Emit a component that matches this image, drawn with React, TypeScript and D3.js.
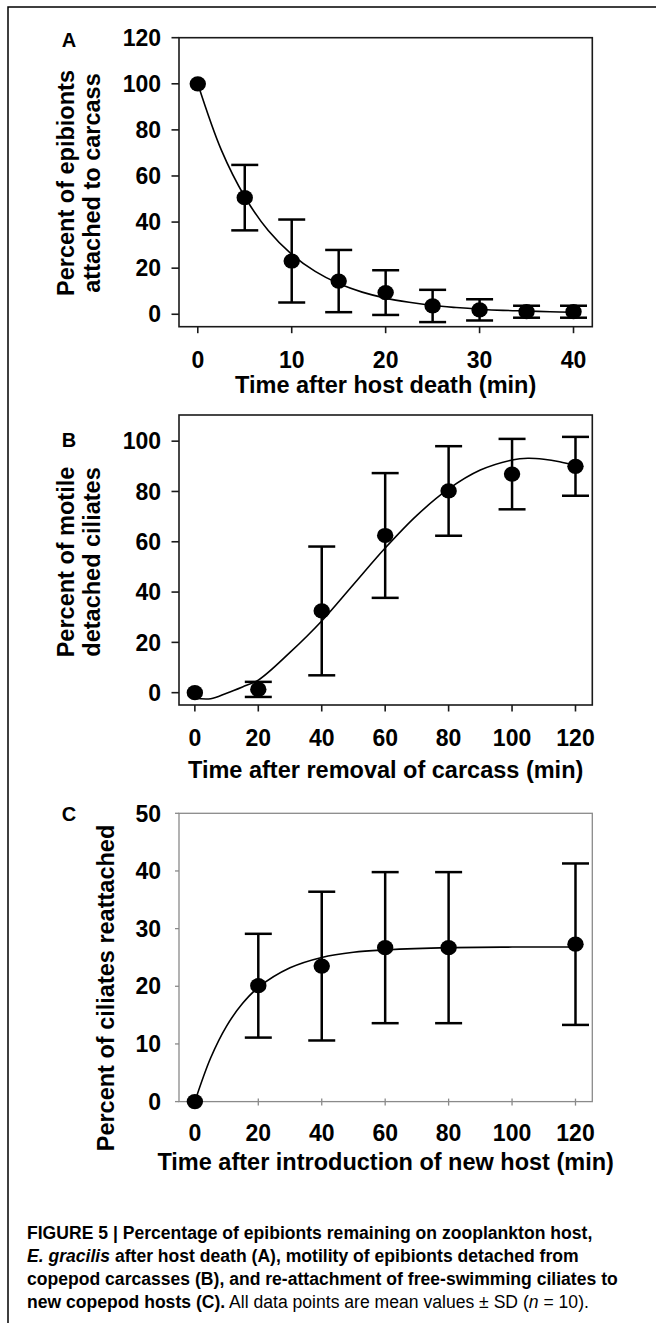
import React from "react";
import * as d3 from "d3";

// ---------- data ----------
const timeA = [0, 5, 10, 15, 20, 25, 30, 35, 40];
const meanA = [100, 50.6, 23.1, 14.4, 9.4, 3.6, 1.9, 1.1, 1.1];
const sdA = [0, 14.2, 18, 13.5, 9.7, 7, 4.6, 2.6, 2.6];
const fitTimeA = [0, 2.5, 5, 7.5, 10, 12.5, 15, 17.5, 20, 22.5, 25, 27.5, 30, 32.5, 35, 37.5, 40];
const fitA = [100, 71.3, 51, 36.3, 26, 18.6, 13.3, 9.6, 7.0, 5.2, 3.8, 2.9, 2.2, 1.7, 1.4, 1.1, 0.9];
const ticksXA = [0, 10, 20, 30, 40];
const ticksYA = [0, 20, 40, 60, 80, 100, 120];

const timeB = [0, 20, 40, 60, 80, 100, 120];
const meanB = [0, 1.3, 32.5, 62.5, 80.2, 86.9, 90.0];
const sdB = [0, 3, 25.6, 24.8, 17.8, 14, 11.7];
const fitTimeB = [0, 5, 10, 15, 20, 30, 40, 50, 60, 70, 80, 90, 100, 105, 110, 115, 120];
const fitB = [-2.2, -2.4, -0.2, 2.3, 5, 16, 28.5, 43, 57.5, 70.5, 81, 88.5, 92.5, 93.2, 92.8, 91.8, 90.3];
const ticksXB = [0, 20, 40, 60, 80, 100, 120];
const ticksYB = [0, 20, 40, 60, 80, 100];

const timeC = [0, 20, 40, 60, 80, 120];
const meanC = [0, 20.1, 23.5, 26.7, 26.7, 27.3];
const sdC = [0, 9, 12.9, 13.1, 13.1, 14];
const fitTimeC = [0, 5, 10, 15, 20, 30, 40, 50, 60, 80, 100, 120];
const fitC = [0, 7.6, 13.1, 17.0, 19.8, 23.2, 25.0, 25.9, 26.3, 26.7, 26.8, 26.8];
const ticksXC = [0, 20, 40, 60, 80, 100, 120];
const ticksYC = [0, 10, 20, 30, 40, 50];

const FONT = "'Liberation Sans', Arial, Helvetica, sans-serif";

type TProps = {
  x: number; y: number; size: number; anchor?: string; weight?: string | number;
  rotate?: boolean; children?: React.ReactNode; fill?: string; style?: string; sx?: number;
};
function T({ x, y, size, anchor = "start", weight = "bold", rotate = false, children, fill = "#000", style = "normal", sx = 1 }: TProps) {
  return (
    <text
      transform={`translate(${x},${y})${rotate ? " rotate(-90)" : ""}${sx !== 1 ? ` scale(${sx},1)` : ""}`}
      fontFamily={FONT}
      fontSize={size}
      fontWeight={weight}
      fontStyle={style}
      textAnchor={anchor}
      fill={fill}
    >
      {children}
    </text>
  );
}

type PanelProps = {
  label: string; labelY: number;
  xDomain: [number, number]; yDomain: [number, number];
  top: number; bottom: number;
  times: number[]; means: number[]; sds: number[];
  fitT: number[]; fitY: number[];
  ticksX: number[]; ticksY: number[];
  xTickLabelY: number; xTitle: string; xTitleY: number;
  yTitle: string[]; yTitleX: number[]; yTitleCY: number;
  gray?: boolean;
};

const LEFT = 179;
const RIGHT = 592.3;
const TICK_FS = 23;
const TITLE_FS = 23.5;

function Panel(p: PanelProps) {
  const x = d3.scaleLinear().domain(p.xDomain).range([LEFT, RIGHT]);
  const y = d3.scaleLinear().domain(p.yDomain).range([p.bottom, p.top]);
  const line = d3
    .line<number>()
    .x((_, i) => x(p.fitT[i]))
    .y((d) => y(d))
    .curve(d3.curveCatmullRom.alpha(0.5));
  const axisColor = p.gray ? "#8a8a8a" : "#1a1a1a";
  const axisW = p.gray ? 1.3 : 1.6;
  const cap = 13.5;
  return (
    <g>
      <T x={69} y={p.labelY} size={20} anchor="middle">{p.label}</T>
      {/* box */}
      <rect x={LEFT} y={p.top} width={RIGHT - LEFT} height={p.bottom - p.top} fill="none" stroke={axisColor} strokeWidth={axisW} />
      {/* y ticks */}
      {p.ticksY.map((t) => (
        <g key={"y" + t}>
          <line x1={LEFT - (p.gray ? 4 : 7.5)} x2={LEFT} y1={y(t)} y2={y(t)} stroke={axisColor} strokeWidth={axisW} />
          <T x={161} y={y(t) + 8.2} size={TICK_FS} anchor="end">{t}</T>
        </g>
      ))}
      {/* x ticks */}
      {p.ticksX.map((t) => (
        <g key={"x" + t}>
          <line x1={x(t)} x2={x(t)} y1={p.gray ? p.bottom - 3 : p.bottom} y2={p.bottom + (p.gray ? 4 : 6.5)} stroke={axisColor} strokeWidth={axisW} />
          <T x={x(t)} y={p.xTickLabelY} size={TICK_FS} anchor="middle">{t}</T>
        </g>
      ))}
      {/* fitted curve */}
      <path d={line(p.fitY) || ""} fill="none" stroke="#000" strokeWidth={1.6} />
      {/* error bars */}
      {p.times.map((t, i) =>
        p.sds[i] > 0 ? (
          <g key={"e" + t} stroke="#000" strokeWidth={2.5}>
            <line x1={x(t)} x2={x(t)} y1={y(p.means[i] + p.sds[i])} y2={y(p.means[i] - p.sds[i])} />
            <line x1={x(t) - cap} x2={x(t) + cap} y1={y(p.means[i] + p.sds[i])} y2={y(p.means[i] + p.sds[i])} />
            <line x1={x(t) - cap} x2={x(t) + cap} y1={y(p.means[i] - p.sds[i])} y2={y(p.means[i] - p.sds[i])} />
          </g>
        ) : null
      )}
      {/* points */}
      {p.times.map((t, i) => (
        <ellipse key={"p" + t} cx={x(t)} cy={y(p.means[i])} rx={8.2} ry={7.6} fill="#000" />
      ))}
      {/* axis titles */}
      <T x={(LEFT + RIGHT) / 2} y={p.xTitleY} size={TITLE_FS} anchor="middle">{p.xTitle}</T>
      {p.yTitle.map((s, i) => (
        <T key={"yt" + i} x={p.yTitleX[i]} y={p.yTitleCY} size={TITLE_FS} anchor="middle" rotate>{s}</T>
      ))}
    </g>
  );
}

const CAP_FS = 19;
const CAP_SX = 0.925;

export default function App() {
  return (
    <svg
      width={656}
      height={1323}
      viewBox="0 0 656 1323"
      style={{ position: "absolute", left: 0, top: 0, background: "#fff" }}
    >
      <rect x={0} y={0} width={656} height={1323} fill="#fff" />
      <rect x={8} y={7} width={700} height={1400} fill="none" stroke="#000" strokeWidth={1.5} />

      <Panel
        label="A" labelY={47}
        xDomain={[-2, 42]} yDomain={[-5.4, 120]} top={37.7} bottom={326.7}
        times={timeA} means={meanA} sds={sdA} fitT={fitTimeA} fitY={fitA}
        ticksX={ticksXA} ticksY={ticksYA}
        xTickLabelY={368} xTitle="Time after host death (min)" xTitleY={393}
        yTitle={["Percent of epibionts", "attached to carcass"]} yTitleX={[74, 100]} yTitleCY={183}
      />
      <Panel
        label="B" labelY={447}
        xDomain={[-5, 125.3]} yDomain={[-4.9, 110.4]} top={415} bottom={705}
        times={timeB} means={meanB} sds={sdB} fitT={fitTimeB} fitY={fitB}
        ticksX={ticksXB} ticksY={ticksYB}
        xTickLabelY={746} xTitle="Time after removal of carcass (min)" xTitleY={778}
        yTitle={["Percent of motile", "detached ciliates"]} yTitleX={[74, 100]} yTitleCY={562}
      />
      <Panel
        label="C" labelY={821}
        xDomain={[-5, 125.3]} yDomain={[0, 50]} top={813.3} bottom={1101.6}
        times={timeC} means={meanC} sds={sdC} fitT={fitTimeC} fitY={fitC}
        ticksX={ticksXC} ticksY={ticksYC}
        xTickLabelY={1141} xTitle="Time after introduction of new host (min)" xTitleY={1170}
        yTitle={["Percent of ciliates reattached"]} yTitleX={[114]} yTitleCY={988}
        gray
      />

      {/* caption */}
      <g>
        <T x={27} y={1239} size={CAP_FS} sx={CAP_SX}>FIGURE 5 | Percentage of epibionts remaining on zooplankton host,</T>
        <T x={27} y={1262} size={CAP_FS} sx={CAP_SX}>
          <tspan fontStyle="italic">E. gracilis</tspan> after host death (A), motility of epibionts detached from
        </T>
        <T x={27} y={1285} size={CAP_FS} sx={CAP_SX}>copepod carcasses (B), and re-attachment of free-swimming ciliates to</T>
        <T x={27} y={1308} size={CAP_FS} sx={CAP_SX}>
          new copepod hosts (C).
          <tspan fontWeight="normal"> All data points are mean values ± SD (</tspan>
          <tspan fontWeight="normal" fontStyle="italic">n</tspan>
          <tspan fontWeight="normal"> = 10).</tspan>
        </T>
      </g>
    </svg>
  );
}
